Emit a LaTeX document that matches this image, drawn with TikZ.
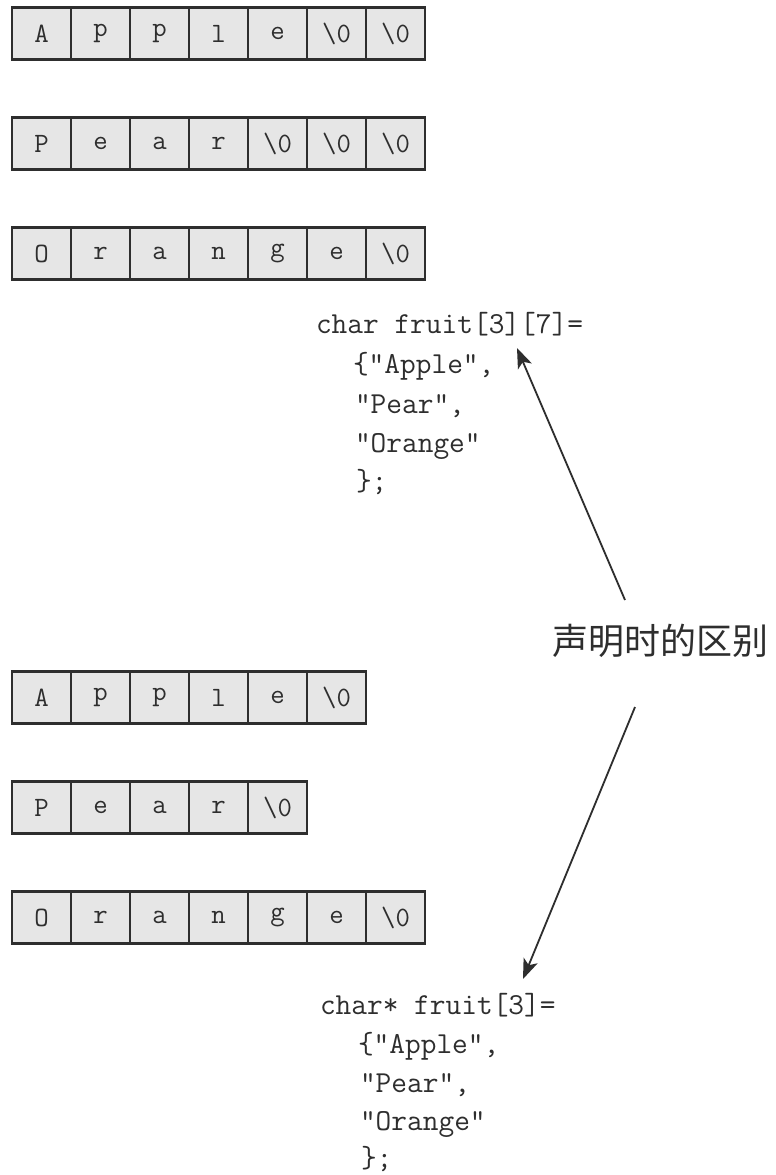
\documentclass[tikz,border=0pt]{standalone}
\usepackage{fontspec}
\newfontfamily\cjk{Noto Sans CJK SC}
\usetikzlibrary{arrows.meta}
\definecolor{ink}{HTML}{2E2E2E}
\definecolor{cellfill}{HTML}{E6E6E6}
\newcommand\nul{\textbackslash0}
\newcommand\cellrow[3]{%
  \foreach \c [count=\i from 0] in {#3} {%
    \node[cellbox] (#1-\i) at ({41.5+59*\i},#2) {\c};
  }%
}
\begin{document}
\begin{tikzpicture}[x=1pt,y=-1pt,
  cellbox/.style={draw=ink, fill=cellfill, line width=2.4pt,
    minimum width=59pt, minimum height=52pt, inner sep=0pt, outer sep=0pt,
    font=\fontsize{28}{28}\selectfont\ttfamily, text=ink},
  codeline/.style={anchor=base west, inner sep=0pt, outer sep=0pt,
    font=\fontsize{30.5}{30.5}\selectfont\ttfamily, text=ink},
  labeltext/.style={inner sep=0pt, font=\fontsize{36}{36}\selectfont\cjk, text=ink},
  pointer/.style={draw=ink, line width=1.8pt,
    -{Stealth[length=20pt,width=15pt,inset=5pt]}}
]
\useasboundingbox[fill=white] (0,0) rectangle (776,1175);

% fixed-length rows
\cellrow{ta}{33.5}{A,p,p,l,e,\nul,\nul}
\cellrow{tp}{143.5}{P,e,a,r,\nul,\nul,\nul}
\cellrow{to}{253.5}{O,r,a,n,g,e,\nul}

% top declaration
\node[codeline] (c1) at (316,333) {char fruit[3][7]=};
\node[codeline] (c2) at (353,373) {\{"Apple",};
\node[codeline] (c3) at (355,413) {"Pear",};
\node[codeline] (c4) at (355,452) {"Orange"};
\node[codeline] (c5) at (356,490) {\};};

% label
\node[labeltext] (lab) at (660,641) {声明时的区别};

% ragged rows
\cellrow{ba}{697.5}{A,p,p,l,e,\nul}
\cellrow{bp}{807.5}{P,e,a,r,\nul}
\cellrow{bo}{917.5}{O,r,a,n,g,e,\nul}

% bottom declaration
\node[codeline] (d1) at (320,1014) {char* fruit[3]=};
\node[codeline] (d2) at (358,1053) {\{"Apple",};
\node[codeline] (d3) at (360,1092) {"Pear",};
\node[codeline] (d4) at (360,1130) {"Orange"};
\node[codeline] (d5) at (361,1167) {\};};

% arrows
\coordinate (u0) at (625,600);
\coordinate (u1) at (517,348);
\coordinate (l0) at (635,707);
\coordinate (l1) at (523,979);
\draw[pointer] (u0) -- (u1);
\draw[pointer] (l0) -- (l1);
\end{tikzpicture}
\end{document}
